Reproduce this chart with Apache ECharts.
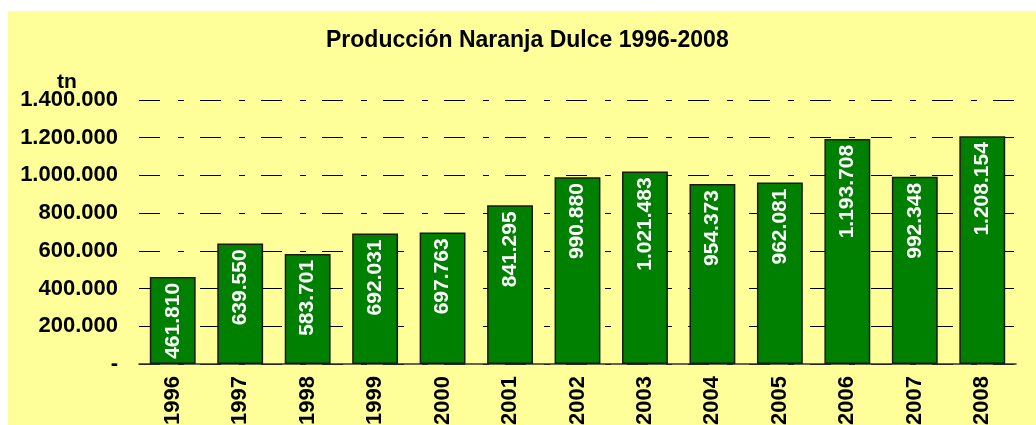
<!DOCTYPE html>
<html>
<head>
<meta charset="utf-8">
<script src="https://cdn.jsdelivr.net/npm/echarts@6/dist/echarts.min.js"></script>
<style>
  html, body { margin: 0; padding: 0; background: #fff; }
  #chart { position: absolute; left: 8px; top: 11px; width: 1028px; height: 414px; background: #FFFF99; }
</style>
</head>
<body>
<div id="chart"></div>
<script>
const years = ['1996', '1997', '1998', '1999', '2000', '2001', '2002', '2003', '2004', '2005', '2006', '2007', '2008']
const production = [461810, 639550, 583701, 692031, 697763, 841295, 990880, 1021483, 954373, 962081, 1193708, 992348, 1208154]
const yMin = 0
const yMax = 1400000
const yStep = 200000

const font = 'Arial, "Liberation Sans", sans-serif'

// miles con punto, cero como guion (formato contable)
function fmt(v) {
  if (v === 0) return '-'
  return String(Math.round(v)).replace(/\B(?=(\d{3})+(?!\d))/g, '.')
}

const myChart = echarts.init(document.getElementById('chart'))
const option = {
  backgroundColor: 'transparent',
  animation: false,
  title: [
    {
      text: 'Producción Naranja Dulce 1996-2008',
      left: 318,
      top: 18,
      padding: 0,
      textStyle: { fontFamily: font, fontSize: 23, fontWeight: 'bold', color: '#000' }
    },
    {
      text: 'tn',
      left: 49,
      top: 61,
      padding: 0,
      textStyle: { fontFamily: font, fontSize: 21, fontWeight: 'bold', color: '#000' }
    }
  ],
  grid: {
    left: 131,
    right: 20,
    top: 89,
    bottom: 61,
    containLabel: false,
    outerBoundsMode: 'none'
  },
  xAxis: {
    type: 'category',
    data: years,
    axisLine: { show: true, lineStyle: { color: '#333', width: 1.5 } },
    axisTick: { show: false },
    axisLabel: {
      rotate: 90,
      margin: 12,
      color: '#000',
      fontFamily: font,
      fontSize: 22,
      fontWeight: 'bold'
    }
  },
  yAxis: {
    type: 'value',
    min: yMin,
    max: yMax,
    interval: yStep,
    axisLine: { show: false },
    axisTick: { show: false },
    axisLabel: {
      margin: 21,
      color: '#000',
      fontFamily: font,
      fontSize: 22,
      fontWeight: 'bold',
      formatter: fmt
    },
    splitLine: {
      show: true,
      lineStyle: { color: '#000', width: 1, type: [21, 18, 6, 16] }
    }
  },
  series: [
    {
      type: 'bar',
      data: production,
      barWidth: '68%',
      itemStyle: { color: '#008000', borderColor: '#1a1a1a', borderWidth: 1.5 },
      label: {
        show: true,
        position: 'insideTop',
        distance: 6,
        rotate: 90,
        align: 'right',
        verticalAlign: 'middle',
        color: '#fff',
        fontFamily: font,
        fontSize: 21,
        fontWeight: 'bold',
        formatter: p => fmt(p.value)
      }
    }
  ]
}
option && myChart.setOption(option)
</script>
</body>
</html>
